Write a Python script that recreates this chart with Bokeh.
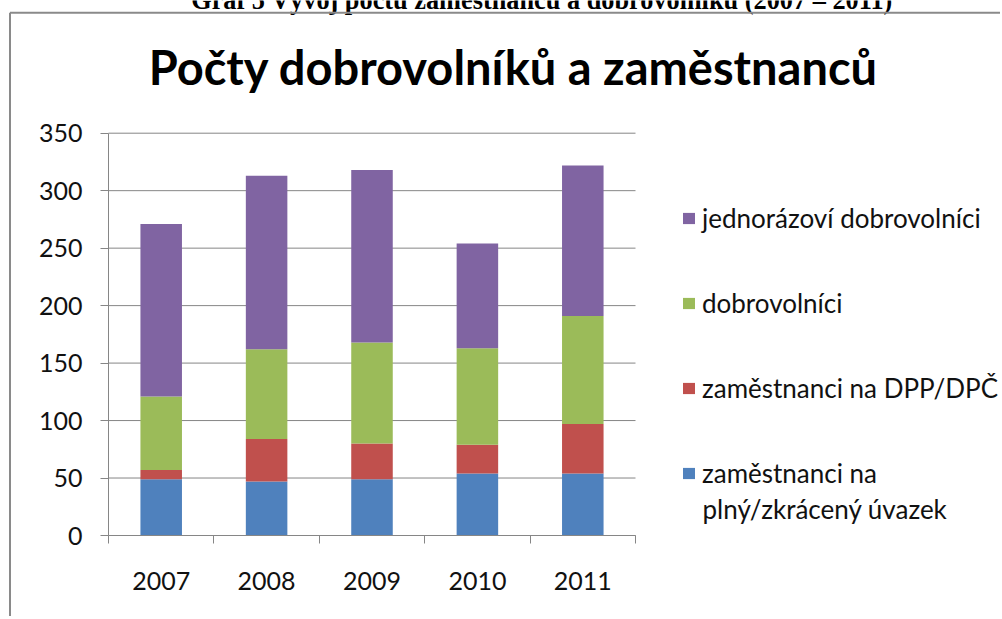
import numpy as np
from bokeh.plotting import figure
from bokeh.models import (ColumnDataSource, FixedTicker, Legend, LegendItem,
                          Label, Arrow, Range1d)
from bokeh.embed import file_html
from bokeh.resources import INLINE

# ---------------- data ----------------
years = ["2007", "2008", "2009", "2010", "2011"]
uvazek = [49, 47, 49, 54, 54]            # zaměstnanci na plný/zkrácený úvazek
dpp = [8, 37, 31, 25, 43]                # zaměstnanci na DPP/DPČ
dobrovolnici = [64, 78, 88, 84, 94]      # dobrovolníci
jednorazovi = [150, 151, 150, 91, 131]   # jednorázoví dobrovolníci

series_keys = ["uvazek", "dpp", "dobrovolnici", "jednorazovi"]
series_labels = ["zaměstnanci na",          # first line of a wrapped legend entry
                 "zaměstnanci na DPP/DPČ",
                 "dobrovolníci",
                 "jednorázoví dobrovolníci"]
label_continuation = "plný/zkrácený úvazek"  # second line of the first entry
colors = ["#4F81BD", "#C0504D", "#9BBB59", "#8064A2"]
y_ticks = [0, 50, 100, 150, 200, 250, 300, 350]
y_max = 350
chart_title = "Počty dobrovolníků a zaměstnanců"
doc_caption = "Graf 5 Vývoj počtu zaměstnanců a dobrovolníků (2007 – 2011)"

# ---------------- layout (canvas px, canvas sits at page 0,0) ----------------
W, H = 1000, 616
AX_L, AX_R = 108, 635          # plot area left / right
AX_T, AX_B = 132.7, 535        # plot area top / bottom
FONT = "Lato"
GRAY = "#868686"
n = len(years)

kx = (AX_R - AX_L) / n
ky = (AX_B - AX_T) / y_max
x_range = Range1d(0 - AX_L / kx, n + (W - AX_R) / kx)
y_range = Range1d(0 - (H - AX_B) / ky, y_max + AX_T / ky)

centers = [i + 0.5 for i in range(n)]
bounds = list(range(n + 1))

source = ColumnDataSource(dict(x=centers, uvazek=uvazek, dpp=dpp,
                               dobrovolnici=dobrovolnici, jednorazovi=jednorazovi))

p = figure(width=W, height=H, x_range=x_range, y_range=y_range,
           output_backend="svg", toolbar_location=None, min_border=0)
p.outline_line_color = None
p.background_fill_color = "white"
p.border_fill_color = "white"
p.xgrid.visible = False
p.ygrid.visible = False

# horizontal gridlines
p.segment(x0=[0] * len(y_ticks), x1=[n] * len(y_ticks), y0=y_ticks, y1=y_ticks,
          line_color=GRAY, line_width=1)

renderers = p.vbar_stack(series_keys, x="x", width=0.394, fill_color=colors,
                         line_color=None, source=source)

# y axis
yax = p.yaxis[0]
yax.fixed_location = 0
yax.bounds = (0, y_max)
yax.ticker = FixedTicker(ticks=y_ticks)
yax.axis_line_color = GRAY
yax.major_tick_line_color = GRAY
yax.major_tick_out = 8
yax.major_tick_in = 0
yax.minor_tick_line_color = None
yax.major_label_text_font = FONT
yax.major_label_text_font_size = "25px"
yax.major_label_text_color = "#111111"
yax.major_label_standoff = 18

# x axis
xax = p.xaxis[0]
xax.fixed_location = 0
xax.bounds = (0, n)
xax.ticker = FixedTicker(ticks=centers, minor_ticks=bounds)
xax.major_label_overrides = {c: y for c, y in zip(centers, years)}
xax.axis_line_color = GRAY
xax.major_tick_line_color = None
xax.major_tick_out = 0
xax.minor_tick_line_color = GRAY
xax.minor_tick_out = 8
xax.minor_tick_in = 0
xax.major_label_text_font = FONT
xax.major_label_text_font_size = "25px"
xax.major_label_text_color = "#111111"
xax.major_label_standoff = 28

# legend (rows centred at ~218, 303, 388, 473)
legend = Legend(
    items=[LegendItem(label=series_labels[i], renderers=[renderers[i]]) for i in reversed(range(4))],
    location=(681, H - 489), orientation="vertical",
    glyph_width=15, glyph_height=14, label_standoff=6, spacing=53,
    padding=0, margin=0, label_height=32,
    border_line_color=None, background_fill_alpha=0,
    label_text_font=FONT, label_text_font_size="26px", label_text_color="#111111",
)
p.add_layout(legend)
p.add_layout(Label(x=702, y=H - 508, x_units="screen", y_units="screen",
                   text=label_continuation, text_align="left", text_baseline="middle",
                   text_font=FONT, text_font_size="26px", text_color="#111111"))

# chart title
p.add_layout(Label(x=513, y=H - 66.7, x_units="screen", y_units="screen",
                   text=chart_title, text_align="center", text_baseline="middle",
                   text_font=FONT, text_font_style="bold", text_font_size="47px",
                   text_color="black"))

# cut-off document caption
p.add_layout(Label(x=541.5, y=H + 0.5, x_units="screen", y_units="screen",
                   text=doc_caption, text_align="center", text_baseline="middle",
                   text_font="Liberation Serif", text_font_style="bold",
                   text_font_size="26.3px", text_color="black"))

# outer chart border
bx, by = 9.5, H - 12.3
p.add_layout(Arrow(end=None, x_start=bx, y_start=by, x_end=W + 10, y_end=by,
                   start_units="screen", end_units="screen",
                   line_color="#8a8a8a", line_width=2))
p.add_layout(Arrow(end=None, x_start=bx, y_start=by, x_end=bx, y_end=-20,
                   start_units="screen", end_units="screen",
                   line_color="#8a8a8a", line_width=2))

open("out.html", "w").write(file_html(p, INLINE))
